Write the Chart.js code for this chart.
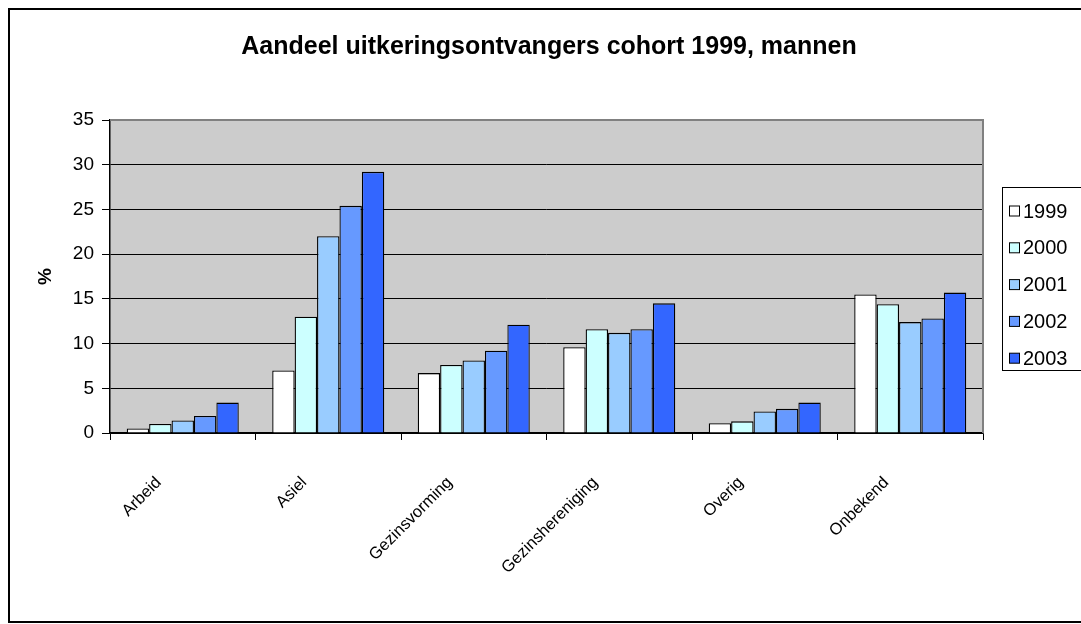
<!DOCTYPE html>
<html>
<head>
<meta charset="utf-8">
<script src="https://cdn.jsdelivr.net/npm/chart.js@4.4.1/dist/chart.umd.min.js"></script>
<style>
  body { margin: 0; background: #fff; }
  #wrap { width: 1081px; height: 624px; }
</style>
</head>
<body>
<div id="wrap"><canvas id="chart" width="1081" height="624"></canvas></div>
<script>
const categories = ['Arbeid', 'Asiel', 'Gezinsvorming', 'Gezinshereniging', 'Overig', 'Onbekend'];
const years = ['1999', '2000', '2001', '2002', '2003'];
const v1999 = [0.5, 7.0, 6.7, 9.6, 1.1, 15.5];
const v2000 = [1.0, 13.0, 7.6, 11.6, 1.3, 14.4];
const v2001 = [1.4, 22.0, 8.1, 11.2, 2.4, 12.4];
const v2002 = [1.9, 25.4, 9.2, 11.6, 2.7, 12.8];
const v2003 = [3.4, 29.2, 12.1, 14.5, 3.4, 15.7];
const colors = ['#FFFFFF', '#CCFFFF', '#99CCFF', '#6699FF', '#3366FF'];
const yMax = 35;
const yStep = 5;
const titleText = 'Aandeel uitkeringsontvangers cohort 1999, mannen';

const FONT = "'Liberation Sans', Arial, sans-serif";
const series = [v1999, v2000, v2001, v2002, v2003];

// plot area background, title, frame and legend (Excel style)
const excelLook = {
    id: 'excelLook',
    beforeDraw(chart) {
        const { ctx, chartArea: a } = chart;
        ctx.save();
        ctx.fillStyle = '#CCCCCC';
        ctx.fillRect(a.left, a.top, a.right - a.left, a.bottom - a.top);
        ctx.restore();
    },
    afterDraw(chart) {
        const { ctx, chartArea: a } = chart;
        ctx.save();
        // grey border of the plot area (top and right)
        ctx.strokeStyle = '#808080';
        ctx.lineWidth = 2;
        ctx.beginPath();
        ctx.moveTo(a.left, a.top);
        ctx.lineTo(a.right, a.top);
        ctx.lineTo(a.right, a.bottom);
        ctx.stroke();

        // outer chart frame
        ctx.strokeStyle = '#000';
        ctx.lineWidth = 2;
        ctx.strokeRect(9, 9, 1100, 613);

        // title
        ctx.fillStyle = '#000';
        ctx.font = 'bold 25px ' + FONT;
        ctx.textAlign = 'center';
        ctx.textBaseline = 'middle';
        ctx.fillText(titleText, 549, 47);

        // legend
        const lx = 1002, ly = 187;
        ctx.lineWidth = 1;
        ctx.strokeRect(lx + 0.5, ly + 0.5, 120, 183);
        ctx.font = '20px ' + FONT;
        ctx.textAlign = 'left';
        chart.data.datasets.forEach((ds, i) => {
            const cy = 211 + i * 36.8;
            ctx.fillStyle = ds.backgroundColor;
            ctx.fillRect(1009.5, cy - 5, 10, 10);
            ctx.strokeStyle = '#000';
            ctx.strokeRect(1009.5, cy - 5, 10, 10);
            ctx.fillStyle = '#000';
            ctx.fillText(ds.label, 1023, cy + 1);
        });
        ctx.restore();
    }
};

const ctx = document.getElementById('chart').getContext('2d');

new Chart(ctx, {
    type: 'bar',
    data: {
        labels: categories,
        datasets: years.map((y, i) => ({
            label: y,
            data: series[i],
            backgroundColor: colors[i],
            borderColor: '#000',
            borderWidth: 1.3,
            categoryPercentage: 0.77,
            barPercentage: 1.0
        }))
    },
    options: {
        responsive: false,
        animation: false,
        layout: { padding: { left: 10, right: 98, top: 120, bottom: 0 } },
        plugins: {
            legend: { display: false },
            tooltip: { enabled: false },
            title: { display: false }
        },
        scales: {
            x: {
                grid: {
                    display: true,
                    drawOnChartArea: false,
                    color: '#000',
                    tickLength: 7,
                    lineWidth: 1
                },
                border: { display: true, color: '#000', width: 1.5 },
                ticks: {
                    color: '#000',
                    font: { family: FONT, size: 16.5 },
                    maxRotation: 45,
                    minRotation: 45,
                    autoSkip: false,
                    labelOffset: -24,
                    padding: 33
                },
                afterFit(scale) { scale.height = 191; }
            },
            y: {
                min: 0,
                max: yMax,
                ticks: {
                    stepSize: yStep,
                    color: '#000',
                    font: { family: FONT, size: 19 },
                    padding: 8
                },
                grid: {
                    color: '#000',
                    lineWidth: 1,
                    tickLength: 8
                },
                border: { display: true, color: '#000', width: 1.5 },
                title: {
                    display: true,
                    text: '%',
                    color: '#000',
                    font: { family: FONT, size: 19, weight: 'bold' },
                    padding: { top: 24, bottom: 0 }
                },
                afterFit(scale) { scale.width = 100; }
            }
        }
    },
    plugins: [excelLook]
});
</script>
</body>
</html>
